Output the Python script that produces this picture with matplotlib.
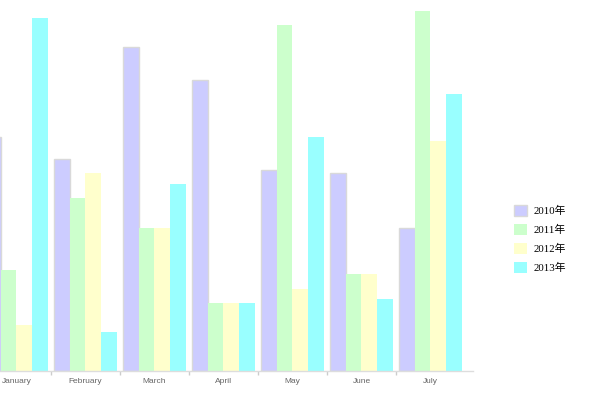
import matplotlib.pyplot as plt
import numpy as np

months = ["January", "February", "March", "April", "May", "June", "July"]
years = ["2010年", "2011年", "2012年", "2013年"]
s2010 = [234, 212, 324, 291, 201, 198, 143]
s2011 = [101, 173, 143, 68, 346, 97, 360]
s2012 = [46, 198, 143, 68, 82, 97, 230]
s2013 = [353, 39, 187, 68, 234, 72, 277]
colors = ["#ccccff", "#ccffcc", "#ffffcc", "#99ffff"]

fig = plt.figure(figsize=(6, 4), dpi=100)
ax = fig.add_axes([0, 29 / 400, 473 / 600, 371 / 400])

x = np.arange(len(months))
w = 0.228
offsets = [-0.342, -0.114, 0.114, 0.342]
handles = []
for k, (vals, c) in enumerate(zip([s2010, s2011, s2012, s2013], colors)):
    edge = "#d9d9d9" if k == 0 else c
    b = ax.bar(x + offsets[k], vals, width=w, color=c, edgecolor=edge,
               linewidth=1.0 if k == 0 else 0, label=years[k])
    handles.append(b)

for s in ["top", "right", "left"]:
    ax.spines[s].set_visible(False)
ax.spines["bottom"].set_color("#dddddd")
ax.spines["bottom"].set_linewidth(1)
ax.set_yticks([])

# group separators (no tick after the last group)
ax.set_xticks(np.arange(0.5, 6, 1))
ax.set_xticklabels([])
ax.tick_params(axis="x", which="major", length=3, color="#cccccc", width=1)
ax.set_xticks(x, minor=True)
ax.set_xticklabels(months, minor=True, fontsize=6, color="#666666",
                   family="Liberation Sans")
ax.tick_params(axis="x", which="minor", length=0, pad=5)

# limits last, so the tick calls cannot widen them
ax.set_xlim(-0.239, 6.616)
ax.set_ylim(0, 371)

fig.legend(handles=handles, labels=years, loc="center left",
           bbox_to_anchor=(504 / 600, 1 - 239 / 400), frameon=False,
           prop={"family": ["Liberation Serif", "Noto Sans CJK SC"], "size": 7.8},
           handlelength=1.2, handleheight=1.2, labelspacing=0.7,
           handletextpad=0.6)

plt.savefig("out.png", dpi=100)
